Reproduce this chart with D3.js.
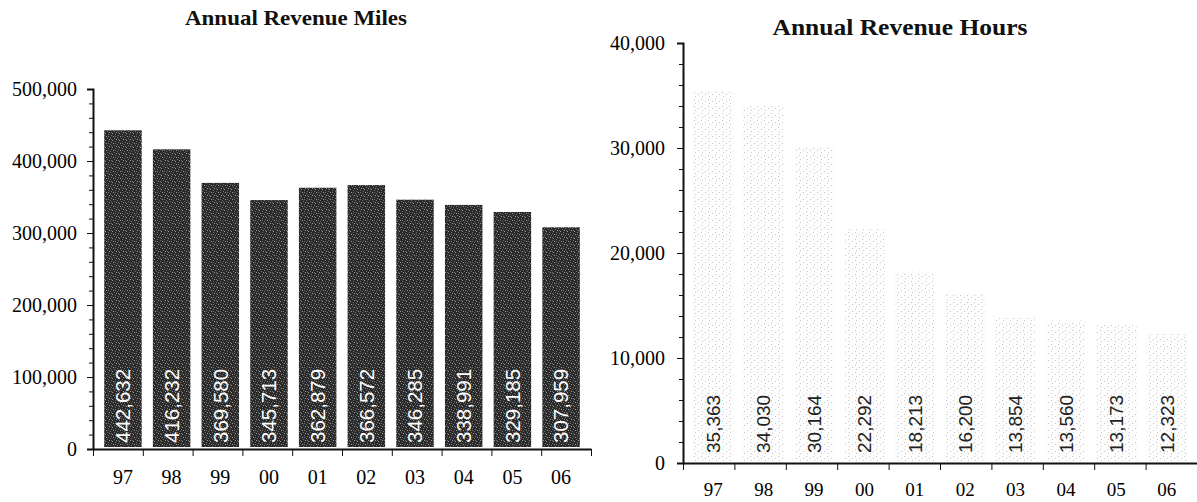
<!DOCTYPE html>
<html lang="en">
<head>
<meta charset="utf-8">
<style type="text/css">
  body { margin: 0; background: #fff; }
  .tick text { font-family: "Liberation Serif", "Times New Roman", serif; fill: #000; }
  .domain, .tick line { stroke: #111; }
</style>
</head>
<body>
<svg width="1197" height="502"></svg>

<script src="https://cdn.jsdelivr.net/npm/d3@7/dist/d3.min.js"></script>
<script type="text/javascript">
// years along the bottom of both charts
var years = ["97", "98", "99", "00", "01", "02", "03", "04", "05", "06"];

// annual revenue miles (left chart)
var milesValues = [442632, 416232, 369580, 345713, 362879, 366572, 346285, 338991, 329185, 307959];
var milesTicks = [0, 100000, 200000, 300000, 400000, 500000];
var milesMinor = d3.range(0, 500001, 20000);

// annual revenue hours (right chart)
var hoursValues = [35363, 34030, 30164, 22292, 18213, 16200, 13854, 13560, 13173, 12323];
var hoursTicks = [0, 10000, 20000, 30000, 40000];
var hoursMinor = d3.range(0, 40001, 2000);

var svg = d3.select("svg");
var fmt = d3.format(",");

// textures that mimic the scanned look of the bars
var defs = svg.append("defs");
var dark = defs.append("pattern").attr("id", "darkfill")
    .attr("width", 7).attr("height", 7).attr("patternUnits", "userSpaceOnUse");
dark.append("rect").attr("width", 7).attr("height", 7).attr("fill", "#2a2a2a");
[[0, 0], [3, 1], [6, 2], [1, 3], [5, 4], [2, 5], [4, 6], [6, 6], [3, 3]].forEach(function(p, i) {
    dark.append("rect").attr("x", p[0]).attr("y", p[1]).attr("width", 1).attr("height", 1)
        .attr("fill", i % 3 ? "#6e6e6e" : "#9a9a9a");
});
var light = defs.append("pattern").attr("id", "lightfill")
    .attr("width", 7).attr("height", 7).attr("patternUnits", "userSpaceOnUse");
light.append("rect").attr("width", 7).attr("height", 7).attr("fill", "#fdfdfd");
[[1, 1], [5, 3], [2, 5]].forEach(function(p) {
    light.append("rect").attr("x", p[0]).attr("y", p[1]).attr("width", 1).attr("height", 1)
        .attr("fill", "#c8c8c8");
});

function drawPanel(c) {
    var g = svg.append("g");

    var x = d3.scaleBand().domain(years).range([c.x0, c.x1]).padding(c.pad);
    var xi = d3.scaleLinear().domain([0, years.length]).range([c.x0, c.x1]);
    var y = d3.scaleLinear().domain([0, c.max]).range([c.y0, c.y1]);

    g.append("text")
        .attr("x", c.titleX).attr("y", c.titleY)
        .attr("text-anchor", "middle")
        .attr("textLength", c.titleLen)
        .attr("lengthAdjust", "spacingAndGlyphs")
        .style("font-family", '"Liberation Serif", "Times New Roman", serif')
        .style("font-size", c.titleSize + "px")
        .style("font-weight", "bold")
        .style("fill", "#111")
        .text(c.title);

    g.selectAll("rect.bar")
        .data(c.values)
        .enter().append("rect")
        .attr("class", "bar")
        .attr("x", function(d, i) { return x(years[i]); })
        .attr("width", x.bandwidth())
        .attr("y", function(d) { return y(d); })
        .attr("height", function(d) { return y(0) - y(d) - 2; })
        .attr("fill", c.fill);

    g.selectAll("text.val")
        .data(c.values)
        .enter().append("text")
        .attr("class", "val")
        .attr("transform", function(d, i) {
            return "translate(" + (x(years[i]) + x.bandwidth() / 2 + c.valSize * 0.36) + "," + c.valBottom + ") rotate(-90)";
        })
        .style("font-family", '"Liberation Sans", Arial, sans-serif')
        .style("font-size", c.valSize + "px")
        .style("fill", c.valColor)
        .text(function(d) { return fmt(d); });

    // minor y ticks
    g.append("g")
        .attr("transform", "translate(" + c.x0 + ",0)")
        .call(d3.axisLeft(y).tickValues(c.minor).tickFormat("").tickSize(4))
        .select(".domain").remove();

    // major y ticks with labels
    g.append("g")
        .attr("transform", "translate(" + c.x0 + ",0)")
        .call(d3.axisLeft(y).tickValues(c.ticks).tickFormat(fmt).tickSize(6).tickPadding(c.yPad))
        .call(function(a) {
            a.select(".domain").attr("stroke-width", 2);
            a.selectAll("text").style("font-size", c.tickSize + "px");
        });

    // x axis line and boundary ticks
    g.append("g")
        .attr("transform", "translate(0," + c.y0 + ")")
        .call(d3.axisBottom(xi).tickValues(d3.range(years.length + 1)).tickFormat("").tickSizeInner(7).tickSizeOuter(0))
        .select(".domain").attr("stroke-width", 2);

    // year labels
    g.append("g")
        .attr("transform", "translate(0," + c.y0 + ")")
        .call(d3.axisBottom(x).tickSize(0).tickPadding(c.labelPad))
        .call(function(a) {
            a.select(".domain").remove();
            a.selectAll("text").style("font-size", c.yearSize + "px");
        });
}

drawPanel({
    title: "Annual Revenue Miles", titleX: 296, titleY: 25, titleSize: 22, titleLen: 222,
    values: milesValues, ticks: milesTicks, minor: milesMinor, max: 500000,
    x0: 93, x1: 591, y0: 449, y1: 89, pad: 0.23, yPad: 10,
    fill: "url(#darkfill)", valColor: "#fff", valSize: 20.5, valBottom: 443,
    tickSize: 20, yearSize: 20, labelPad: 21
});

drawPanel({
    title: "Annual Revenue Hours", titleX: 900, titleY: 35, titleSize: 23, titleLen: 255,
    values: hoursValues, ticks: hoursTicks, minor: hoursMinor, max: 40000,
    x0: 683, x1: 1197, y0: 463, y1: 43, pad: 0.2, yPad: 12,
    fill: "url(#lightfill)", valColor: "#222", valSize: 19, valBottom: 453,
    tickSize: 20, yearSize: 19, labelPad: 20
});
</script>
</body>
</html>
